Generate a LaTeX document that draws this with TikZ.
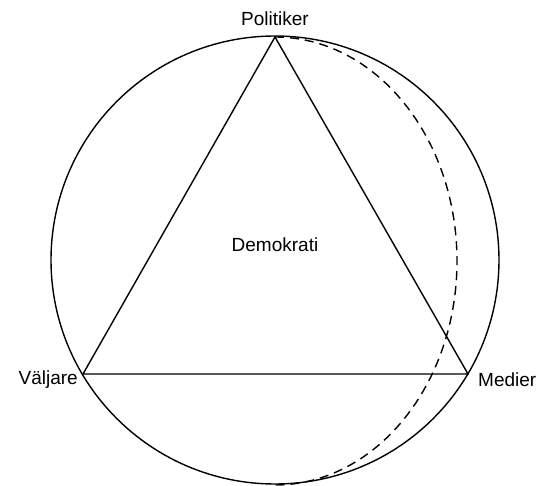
\documentclass[tikz,border=0pt]{standalone}
\usepackage{fontspec}
\setmainfont{Liberation Sans}
\begin{document}
\begin{tikzpicture}[x=1pt,y=-1pt,
  line/.style={line width=1.4pt,black},
  lbl/.style={font=\fontsize{19}{22}\selectfont,inner sep=0pt}]
\useasboundingbox (0,0) rectangle (539,486);
\coordinate (c) at (275,260);
\coordinate (P) at (275,37);
\coordinate (V) at (83,374);
\coordinate (M) at (468,374);
\draw[line] (c) circle [radius=224];
\draw[line] (P) -- (V) -- (M) -- cycle;
\draw[line,dash pattern=on 9pt off 6pt] (P) arc [start angle=90, end angle=-90, x radius=182, y radius=-224];
\node[lbl] (pol) at (275,19) {Politiker};
\node[lbl,anchor=east] (valj) at (78,380) {Väljare};
\node[lbl,anchor=west] (med) at (478,380) {Medier};
\node[lbl] (dem) at (275,245) {Demokrati};
\end{tikzpicture}
\end{document}
